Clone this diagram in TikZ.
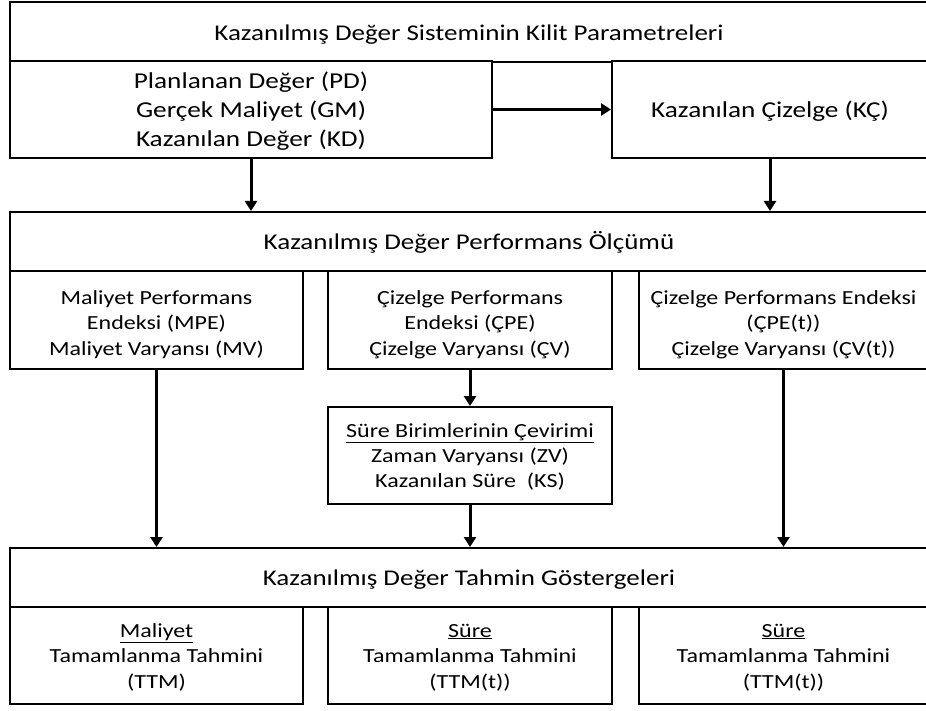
\documentclass[tikz,border=0pt]{standalone}
\usepackage{fontspec}
\setmainfont[FakeStretch=1.2]{Carlito}
\usetikzlibrary{arrows.meta}
% centred stack of lines, drawn lower by the given amount
% (the box keeps its original height and depth)
\newcommand\boxlines[2]{\raisebox{#1}[\height][\depth]{\begin{tabular}{@{}c@{}}#2\end{tabular}}}
\begin{document}
\begin{tikzpicture}[x=1pt,y=-1pt,
  box/.style={draw=black,line width=2pt,fill=white,rectangle,inner sep=0pt,
    font=\fontsize{20}{25.5}\selectfont},
  headbox/.style={box,minimum width=918pt,minimum height=59pt,
    font=\fontsize{22.5}{30}\selectfont},
  parambox/.style={box,minimum height=97pt,font=\fontsize{22.7}{29}\selectfont},
  arr/.style={line width=3pt,-{Triangle[length=10pt,width=12pt]}}]
\useasboundingbox (0,0) rectangle (926,711);
% key parameters
\node[headbox,minimum height=60pt] (h1) at (469,32)
  {\boxlines{-2.5pt}{Kazanılmış Değer Sisteminin Kilit Parametreleri}};
\node[parambox,minimum width=482pt] (kp) at (251,109.5)
  {\boxlines{-2.5pt}{Planlanan Değer (PD)\\Gerçek Maliyet (GM)\\Kazanılan Değer (KD)}};
\node[parambox,minimum width=316pt] (kc) at (770,109.5)
  {\boxlines{-2pt}{Kazanılan Çizelge (KÇ)}};
% performance measurement
\node[headbox] (h2) at (469,241.5)
  {\boxlines{-2pt}{Kazanılmış Değer Performans Ölçümü}};
\node[box,minimum width=293pt,minimum height=98pt] (m1) at (156.5,320)
  {\boxlines{-4.5pt}{Maliyet Performans\\Endeksi (MPE)\\Maliyet Varyansı (MV)}};
\node[box,minimum width=284pt,minimum height=98pt] (m2) at (470,320)
  {\boxlines{-4.5pt}{Çizelge Performans\\Endeksi (ÇPE)\\Çizelge Varyansı (ÇV)}};
\node[box,minimum width=289pt,minimum height=98pt] (m3) at (783.5,320)
  {\boxlines{-4.5pt}{Çizelge Performans Endeksi\\(ÇPE(t))\\Çizelge Varyansı (ÇV(t))}};
\node[box,minimum width=284pt,minimum height=97pt,
  font=\fontsize{20}{25}\selectfont] (sb) at (470,455.5)
  {\boxlines{-2pt}{\underline{Süre Birimlerinin Çevirimi}\\Zaman Varyansı (ZV)\\Kazanılan Süre\ \ (KS)}};
% forecast indicators
\node[headbox] (h3) at (469,577.5)
  {\boxlines{-2pt}{Kazanılmış Değer Tahmin Göstergeleri}};
\node[box,minimum width=293pt,minimum height=97pt] (t1) at (156.5,655.5)
  {\boxlines{-2pt}{\underline{Maliyet}\\Tamamlanma Tahmini\\(TTM)}};
\node[box,minimum width=284pt,minimum height=97pt] (t2) at (470,655.5)
  {\boxlines{-2pt}{\underline{Süre}\\Tamamlanma Tahmini\\(TTM(t))}};
\node[box,minimum width=289pt,minimum height=97pt] (t3) at (783.5,655.5)
  {\boxlines{-2pt}{\underline{Süre}\\Tamamlanma Tahmini\\(TTM(t))}};
% connectors
\draw[arr] (kp.east) -- (kc.west);
\draw[arr] (kp.south) -- (kp.south |- h2.north);
\draw[arr] (kc.south) -- (kc.south |- h2.north);
\draw[arr] (m1.south) -- (m1.south |- h3.north);
\draw[arr] (m2.south) -- (sb.north);
\draw[arr] (sb.south) -- (sb.south |- h3.north);
\draw[arr] (m3.south) -- (m3.south |- h3.north);
\end{tikzpicture}
\end{document}
